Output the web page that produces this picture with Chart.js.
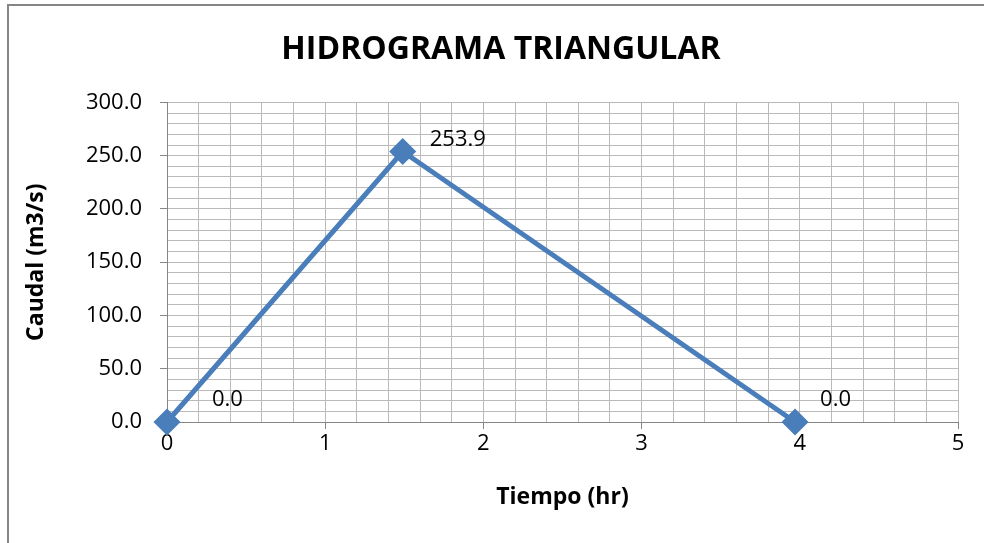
<!DOCTYPE html>
<html>
<head>
<meta charset="utf-8">
<script src="https://cdn.jsdelivr.net/npm/chart.js@4.4.1/dist/chart.umd.min.js"></script>
<style>
  html, body { margin: 0; padding: 0; background: #fff; }
  #wrap { width: 984px; height: 543px; position: relative; }
</style>
</head>
<body>
<div id="wrap"><canvas id="c"></canvas></div>
<script>
// datos del hidrograma
const tiempo = [0, 1.49, 3.97];
const caudal = [0, 253.9, 0];
const titulo = "HIDROGRAMA TRIANGULAR";
const ejeX = "Tiempo (hr)";
const ejeY = "Caudal (m3/s)";

const FONT = "'Open Sans', sans-serif";
const AZUL = "#4a7ebb";
const GRID = "#bababa";
const EJE = "#868686";

const isInt = (v) => Math.abs(v - Math.round(v)) < 1e-6;

// borde del area del grafico
const marco = {
  id: "marco",
  beforeDraw(chart) {
    const ctx = chart.ctx;
    ctx.save();
    ctx.strokeStyle = EJE; ctx.lineWidth = 2;
    ctx.strokeRect(8, 5, 1100, 700);
    ctx.restore();
  }
};

// etiquetas de datos, a la derecha del punto
const etiquetas = {
  id: "etiquetas",
  afterDatasetsDraw(chart, args, opts) {
    const ctx = chart.ctx;
    const xs = chart.scales.x, ys = chart.scales.y;
    ctx.save();
    ctx.font = `22px ${FONT}`;
    ctx.fillStyle = "#000";
    ctx.textAlign = "left"; ctx.textBaseline = "middle";
    caudal.forEach((q, i) => {
      const px = xs.getPixelForValue(tiempo[i]);
      const py = ys.getPixelForValue(q);
      const [dx, dy] = opts.offsets[i] || [20, 0];
      ctx.fillText(q.toFixed(1), px + dx, py + dy);
    });
    ctx.restore();
  }
};

new Chart(document.getElementById("c"), {
  type: "scatter",
  data: {
    datasets: [{
      data: tiempo.map((t, i) => ({ x: t, y: caudal[i] })),
      showLine: true,
      borderColor: AZUL,
      backgroundColor: AZUL,
      borderWidth: 5,
      pointStyle: "rectRot",
      pointRadius: 10,
      pointHoverRadius: 10,
      clip: false
    }]
  },
  options: {
    responsive: true,
    maintainAspectRatio: false,
    animation: false,
    layout: { padding: { left: 44, right: 26, top: 5, bottom: 0 } },
    plugins: {
      legend: { display: false },
      tooltip: { enabled: false },
      title: {
        display: true, text: titulo, color: "#000",
        font: { family: FONT, size: 32, weight: "bold" },
        padding: { top: 26, bottom: 33 }
      },
      etiquetas: { offsets: [[45, -22], [27, -12], [25, -22]] }
    },
    scales: {
      x: {
        type: "linear", min: 0, max: 5,
        afterFit: (s) => { s.height = 121; },
        border: { color: EJE, width: 1 },
        grid: {
          color: GRID, lineWidth: 1, tickLength: 7,
          tickColor: (c) => (c.tick && isInt(c.tick.value) ? EJE : "rgba(0,0,0,0)")
        },
        ticks: {
          stepSize: 0.2, autoSkip: false, maxRotation: 0, padding: 2,
          color: "#000", font: { family: FONT, size: 22 },
          callback: (v) => (isInt(v) ? String(Math.round(v)) : "")
        },
        title: {
          display: true, text: ejeX, color: "#000",
          font: { family: FONT, size: 23, weight: "bold" },
          padding: { top: 0, bottom: 32 }
        }
      },
      y: {
        type: "linear", min: 0, max: 300,
        afterFit: (s) => { s.width = 167 - 44; },
        border: { color: EJE, width: 1 },
        grid: {
          color: GRID, lineWidth: 1, tickLength: 7,
          tickColor: (c) => (c.tick && c.tick.value % 50 === 0 ? EJE : "rgba(0,0,0,0)")
        },
        ticks: {
          stepSize: 10, autoSkip: false, padding: 18,
          color: "#000", font: { family: FONT, size: 22 },
          callback: (v) => (v % 50 === 0 ? v.toFixed(1) : "")
        },
        title: {
          display: true, text: ejeY, color: "#000",
          font: { family: FONT, size: 23, weight: "bold" },
          padding: { top: -21, bottom: 0 }
        }
      }
    }
  },
  plugins: [marco, etiquetas]
});
</script>
</body>
</html>
